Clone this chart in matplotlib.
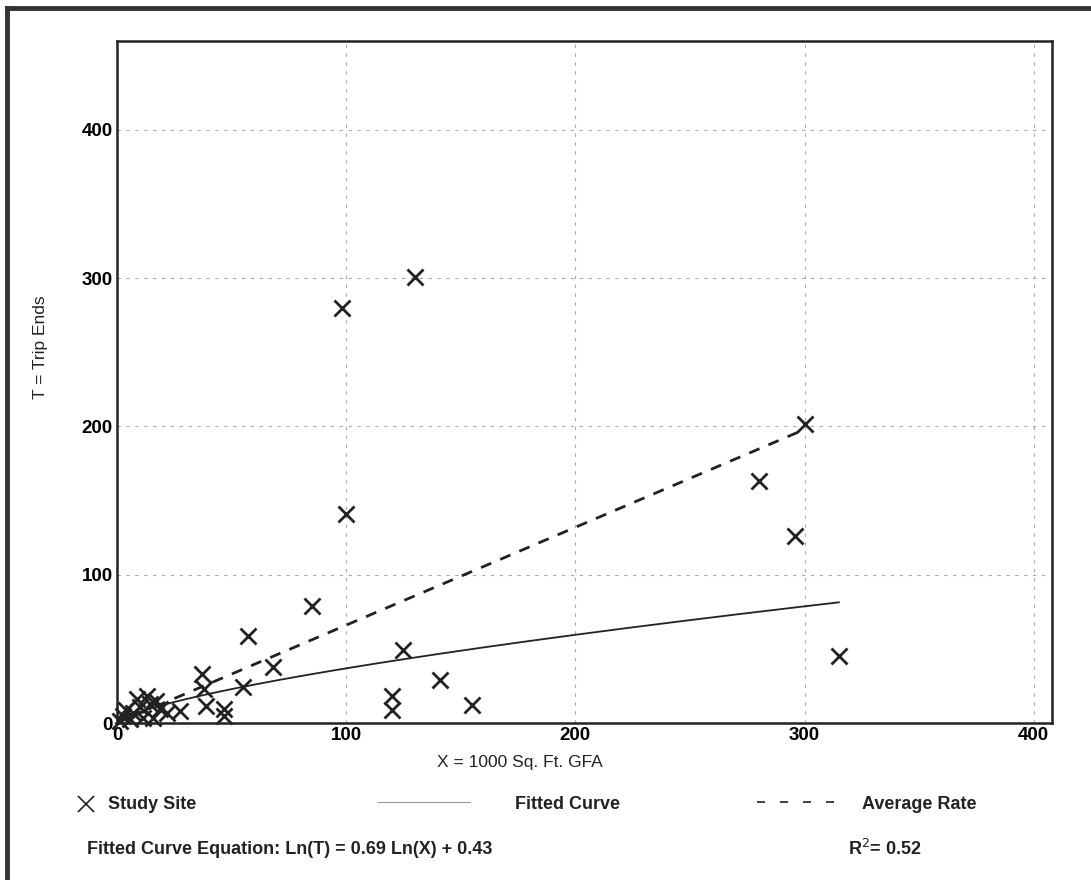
import numpy as np
import matplotlib
matplotlib.use("Agg")
import matplotlib.pyplot as plt
from matplotlib.lines import Line2D

plt.rcParams['font.family'] = ['Liberation Sans', 'DejaVu Sans']

# study sites (X = 1000 sq ft GFA, T = trip ends)
site_x = [130, 98, 100, 300, 280, 296, 315, 85, 57, 68, 37, 38, 39, 55, 46.5, 46.7,
          125, 141, 120, 120, 155, 27.5,
          8.6, 13, 14.4, 18.8, 21.7, 7, 2.6, 5.7, 11.4, 15.7, 1.3, 10, 4, 17]
site_t = [301, 280, 141, 202, 163, 126, 45, 79, 59, 38, 33, 23, 11.5, 24, 9.5, 4.7,
          49, 29, 18, 8.8, 12, 8,
          16, 18, 12.8, 9.5, 6.8, 6.8, 4.7, 2.7, 3.4, 3.4, 1.4, 11, 9, 15]

fit_slope = 0.69
fit_const = 0.43
avg_rate = 0.66
avg_end = 300
r2 = 0.52

ticks = [0, 100, 200, 300, 400]

fig = plt.figure(figsize=(10.91, 8.8), dpi=100)
ax = fig.add_axes([0.1072, 0.1784, 0.8571, 0.775])

# fitted curve and average rate
xf = np.linspace(min(site_x), max(site_x), 200)
ax.plot(xf, np.exp(fit_const) * xf ** fit_slope, color='#222222', lw=1.3)
xa = np.array([0, avg_end])
ax.plot(xa, avg_rate * xa, color='#222222', lw=2, linestyle=(0, (4, 3.5)))

ax.plot(site_x, site_t, linestyle='none', marker='x', markersize=12,
        markeredgewidth=2, color='#222222', clip_on=False)

ax.set_xlim(0, 408)
ax.set_ylim(0, 460)
ax.set_xticks(ticks)
ax.set_yticks(ticks)
ax.set_xticklabels([str(t) for t in ticks], fontsize=13.5, fontweight='bold')
ax.set_yticklabels([str(t) for t in ticks], fontsize=13.5, fontweight='bold')
ax.tick_params(length=0, pad=3)
ax.grid(True, color='#aaaaaa', lw=0.8, linestyle=(0, (3, 5)))
for s in ax.spines.values():
    s.set_linewidth(1.8)
    s.set_color('#222222')

W, H = 1091.0, 880.0
def fx(px):
    return px / W
def fy(py):
    return 1 - py / H

fig.text(fx(520), fy(762), 'X = 1000 Sq. Ft. GFA', fontsize=12.5,
         ha='center', va='center', color='#222222')
fig.text(fx(40), fy(347), 'T = Trip Ends', fontsize=12.5, rotation=90,
         ha='center', va='center', color='#222222')

# legend row
fig.add_artist(Line2D([fx(86)], [fy(804)], marker='x', markersize=11,
                      markeredgewidth=1.2, color='#222222', linestyle='none'))
fig.text(fx(108), fy(804), 'Study Site', fontsize=13, fontweight='bold',
         ha='left', va='center', color='#222222')
fig.add_artist(Line2D([fx(378), fx(470)], [fy(802), fy(802)], color='#999999', lw=0.8))
fig.text(fx(515), fy(804), 'Fitted Curve', fontsize=13, fontweight='bold',
         ha='left', va='center', color='#222222')
fig.add_artist(Line2D([fx(757), fx(834)], [fy(802), fy(802)], color='#222222', lw=1.2,
                      linestyle=(0, (4.8, 9))))
fig.text(fx(862), fy(804), 'Average Rate', fontsize=13, fontweight='bold',
         ha='left', va='center', color='#222222')

fig.text(fx(87), fy(849),
         'Fitted Curve Equation: Ln(T) = %.2f Ln(X) + %.2f' % (fit_slope, fit_const),
         fontsize=13, fontweight='bold', ha='left', va='center', color='#222222')
fig.text(fx(848), fy(849), 'R$^{2}$= %.2f' % r2, fontsize=13, fontweight='bold',
         ha='left', va='center', color='#222222')

# outer frame (top and left edges visible)
fig.add_artist(Line2D([fx(7), 1.0], [fy(8), fy(8)], color='#333333', lw=3.5))
fig.add_artist(Line2D([fx(7), fx(7)], [fy(8), 0.0], color='#333333', lw=3.5))

fig.savefig('out.png', dpi=100)
